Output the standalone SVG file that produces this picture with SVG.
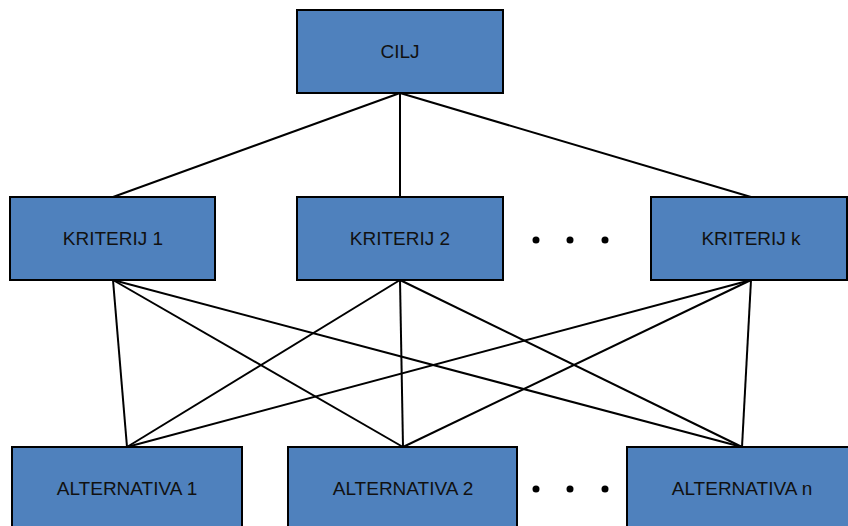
<svg xmlns="http://www.w3.org/2000/svg" width="848" height="526" viewBox="0 0 848 526">
<style>
.box{fill:#4F81BD;stroke:#000;stroke-width:2}
.lbl{font-family:"Liberation Sans",Arial,sans-serif;font-size:19px;fill:#111;text-anchor:middle}
.edge{stroke:#000;stroke-width:2;fill:none}
.dot{fill:#000}
</style>
<rect width="848" height="526" fill="#fff"/>
<g id="connectors">
<line class="edge" x1="400" y1="93" x2="113" y2="197"/>
<line class="edge" x1="400" y1="93" x2="400" y2="197"/>
<line class="edge" x1="400" y1="93" x2="751" y2="197"/>
<line class="edge" x1="113" y1="280" x2="127" y2="447"/>
<line class="edge" x1="113" y1="280" x2="403" y2="447"/>
<line class="edge" x1="113" y1="280" x2="742" y2="447"/>
<line class="edge" x1="400" y1="280" x2="127" y2="447"/>
<line class="edge" x1="400" y1="280" x2="403" y2="447"/>
<line class="edge" x1="400" y1="280" x2="742" y2="447"/>
<line class="edge" x1="751" y1="280" x2="127" y2="447"/>
<line class="edge" x1="751" y1="280" x2="403" y2="447"/>
<line class="edge" x1="751" y1="280" x2="742" y2="447"/>
</g>
<g id="cilj"><rect class="box" x="297" y="10" width="206" height="83"/><text class="lbl" x="400" y="58">CILJ</text></g>
<g id="kriterij1"><rect class="box" x="10" y="197" width="205" height="83"/><text class="lbl" x="113" y="245">KRITERIJ 1</text></g>
<g id="kriterij2"><rect class="box" x="297" y="197" width="206" height="83"/><text class="lbl" x="400" y="245">KRITERIJ 2</text></g>
<g id="kriterijk"><rect class="box" x="651" y="197" width="196" height="83"/><text class="lbl" x="751" y="245">KRITERIJ k</text></g>
<g id="dots-top"><circle class="dot" cx="536" cy="240" r="3.5"/><circle class="dot" cx="570" cy="240" r="3.5"/><circle class="dot" cx="605" cy="240" r="3.5"/></g>
<g id="alternativa1"><rect class="box" x="12" y="447" width="230" height="90"/><text class="lbl" x="127" y="495">ALTERNATIVA 1</text></g>
<g id="alternativa2"><rect class="box" x="288" y="447" width="229" height="90"/><text class="lbl" x="403" y="495">ALTERNATIVA 2</text></g>
<g id="alternativan"><rect class="box" x="627" y="447" width="230" height="90"/><text class="lbl" x="742" y="495">ALTERNATIVA n</text></g>
<g id="dots-bottom"><circle class="dot" cx="536" cy="489" r="3.5"/><circle class="dot" cx="570" cy="489" r="3.5"/><circle class="dot" cx="605" cy="489" r="3.5"/></g>
</svg>
